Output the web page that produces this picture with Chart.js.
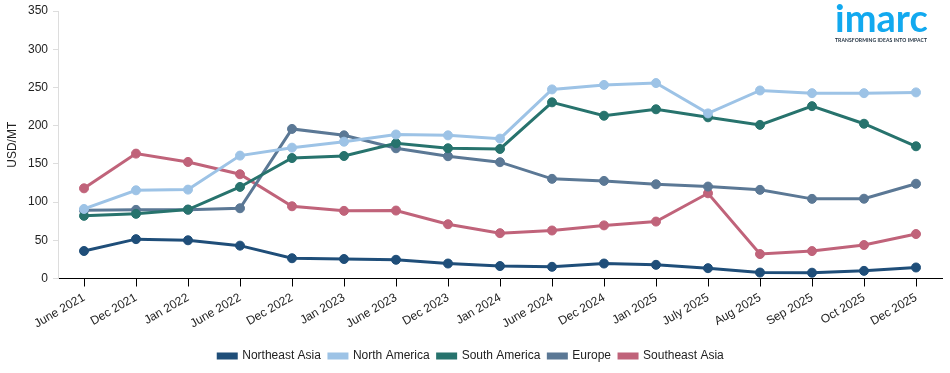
<!DOCTYPE html>
<html>
<head>
<meta charset="utf-8">
<script src="https://cdn.jsdelivr.net/npm/chart.js@4"></script>
<style>
	html, body { margin: 0; padding: 0; background: #fff; }
	#wrap { position: relative; width: 950px; height: 373px; }
	#logo { position: absolute; left: 835px; top: -3px; width: 100px; font-family: 'Lato', sans-serif; }
	#logo .name { color: #12a9ef; font-size: 38px; font-weight: 700; line-height: 40px; }
	#logo .tag { color: #1a2a3a; font-size: 5px; font-weight: 700; line-height: 6px; margin-top: 0px; white-space: nowrap; letter-spacing: 0.1px; }
</style>
</head>
<body>
<div id="wrap">
	<canvas id="cnvs" width="950" height="373"></canvas>
	<div id="logo"><div class="name">imarc</div><div class="tag">TRANSFORMING IDEAS INTO IMPACT</div></div>
</div>
<script>
var labels = ['June 2021', 'Dec 2021', 'Jan 2022', 'June 2022', 'Dec 2022', 'Jan 2023', 'June 2023', 'Dec 2023', 'Jan 2024', 'June 2024', 'Dec 2024', 'Jan 2025', 'July 2025', 'Aug 2025', 'Sep 2025', 'Oct 2025', 'Dec 2025'];

var northeastAsia = [36, 51.5, 50, 43, 26.5, 25.5, 24.5, 19.6, 16.3, 15.3, 19.6, 17.9, 13.5, 7.8, 7.6, 10, 14.4];
var northAmerica = [91, 115.4, 116.3, 160.8, 171.2, 179, 188.4, 187.3, 183, 247.4, 253.3, 255.7, 216, 246, 242.5, 242.5, 243.5];
var southAmerica = [82, 84.6, 90.2, 119.8, 157.6, 160.3, 177, 170.4, 169.5, 230.5, 213, 221.4, 210.9, 201, 225.5, 202.5, 173];
var europe = [89.3, 89.8, 90, 91.9, 195.7, 187.3, 170.4, 160, 152.2, 130.4, 127.7, 123.3, 120.3, 116, 104.2, 104.4, 124];
var southeastAsia = [118, 163.4, 152.5, 136.4, 94.5, 88.5, 88.9, 71, 59.3, 62.8, 69.5, 74.5, 111.5, 32, 35.9, 43.8, 58.2];

var yTicks = [0, 50, 100, 150, 200, 250, 300, 350];

var fontFamily = 'Liberation Sans, Arial, sans-serif';

function series(name, data, color)
{
	return {
		label: name,
		data: data,
		borderColor: color,
		backgroundColor: color,
		pointBackgroundColor: color,
		pointBorderColor: color,
		borderWidth: 3,
		pointRadius: 4.5,
		pointBorderWidth: 1,
		pointHoverRadius: 4.5,
		tension: 0
	};
}

var ctx = document.getElementById('cnvs').getContext('2d');
var chart = new Chart(ctx, {
	type: 'line',
	data: {
		labels: labels,
		datasets: [
			series('Northeast Asia', northeastAsia, '#1f4e79'),
			series('North America', northAmerica, '#9dc3e6'),
			series('South America', southAmerica, '#27736d'),
			series('Europe', europe, '#5b7895'),
			series('Southeast Asia', southeastAsia, '#c0637a')
		]
	},
	options: {
		responsive: false,
		animation: false,
		layout: { padding: { left: 0, right: 8, top: 11, bottom: 1 } },
		plugins: {
			legend: {
				position: 'bottom',
				labels: {
					boxWidth: 18,
					boxHeight: 4,
					padding: 8,
					color: '#222',
					font: { family: fontFamily, size: 12 }
				}
			},
			tooltip: { enabled: false }
		},
		scales: {
			x: {
				offset: true,
				afterFit: function(axis) { axis.height += 7; },
				grid: { display: true, drawOnChartArea: false, drawTicks: true, tickLength: 8, color: '#000' },
				border: { display: true, color: '#000', width: 1 },
				ticks: {
					maxRotation: 30,
					minRotation: 30,
					autoSkip: false,
					color: '#222',
					padding: 4,
					font: { family: fontFamily, size: 12 }
				}
			},
			y: {
				min: 0,
				max: 350,
				afterBuildTicks: function(axis) { axis.ticks = yTicks.map(v => ({ value: v })); },
				afterFit: function(axis) { axis.width = 58; axis.paddingTop = 0; },
				grid: { display: true, drawOnChartArea: false, drawTicks: true, tickLength: 5, color: '#ddd' },
				border: { display: true, color: '#ddd', width: 1 },
				title: {
					display: true,
					text: 'USD/MT',
					color: '#222',
					padding: { top: 5, bottom: 0 },
					font: { family: fontFamily, size: 12 }
				},
				ticks: {
					padding: 5,
					color: '#222',
					font: { family: fontFamily, size: 12 }
				}
			}
		}
	}
});
</script>
</body>
</html>
